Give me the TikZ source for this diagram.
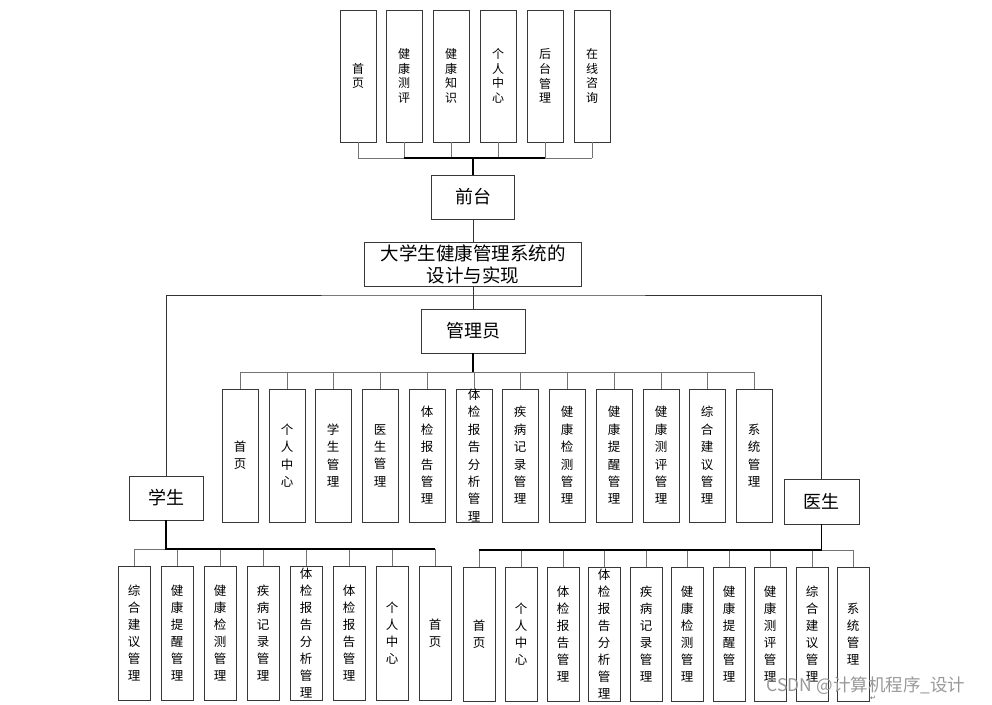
\documentclass[tikz,border=0pt]{standalone}
\usepackage{fontspec}
\setmainfont{Noto Sans CJK SC}
\newfontfamily\symfont{DejaVu Sans}
\begin{document}
\begin{tikzpicture}[x=1pt,y=-1pt,
  box/.style={draw=black!78,line width=0.9pt,fill=white,inner sep=0pt,align=center},
  topbox/.style={box,minimum width=36pt,minimum height=132pt,font=\fontsize{12}{14.6}\selectfont},
  admbox/.style={box,minimum width=36pt,minimum height=133pt,font=\fontsize{12.5}{17.4}\selectfont},
  subbox/.style={box,minimum width=32pt,minimum height=134pt,font=\fontsize{12.5}{17}\selectfont},
  headbox/.style={box,minimum height=44pt,font=\fontsize{18}{22}\selectfont},
  bus/.style={draw=black!55,line width=0.9pt},
  stem/.style={draw=black,line width=1.5pt},
  conn/.style={draw=black!80,line width=0.8pt}]
\useasboundingbox (0,0) rectangle (992,704);

% top level
\node[topbox] (t1) at (358,76) {首\\页};
\node[topbox] (t2) at (404,76) {健\\康\\测\\评};
\node[topbox] (t3) at (451,76) {健\\康\\知\\识};
\node[topbox] (t4) at (498,76) {个\\人\\中\\心};
\node[topbox] (t5) at (545,76) {后\\台\\管\\理};
\node[topbox] (t6) at (592,76) {在\\线\\咨\\询};
\node[headbox,minimum width=83pt] (qt) at (473,197) {前台};
\node[headbox,minimum width=217pt,font=\fontsize{18.5}{22}\selectfont] (sys) at (473,264) {大学生健康管理系统的\\设计与实现};
\node[headbox,minimum width=104pt] (adm) at (473,331) {管理员};
\node[headbox,minimum width=74pt] (stu) at (166,498) {学生};
\node[headbox,minimum width=75pt,minimum height=45pt] (doc) at (821.5,501.5) {医生};

\coordinate (tb) at (473,158);
\foreach \i in {1,...,6} \draw[bus] (t\i.south) -- (t\i.south |- tb);
\draw[bus] (t1.south |- tb) -- (t6.south |- tb);
\draw[stem] (t2.south |- tb) -- (t5.south |- tb);
\draw[stem] (qt.north) -- (qt.north |- tb);
\draw[conn] (qt.south) -- (sys.north);
\draw[conn] (sys.south) -- (adm.north);
\coordinate (fr) at (473,295);
\draw[conn] (stu.north) |- (fr) -| (doc.north);

% admin
\node[admbox] (a1) at (240,455.5) {首\\页};
\node[admbox] (a2) at (287,455.5) {个\\人\\中\\心};
\node[admbox] (a3) at (333,455.5) {学\\生\\管\\理};
\node[admbox] (a4) at (380,455.5) {医\\生\\管\\理};
\node[admbox] (a5) at (427,455.5) {体\\检\\报\\告\\管\\理};
\node[admbox] (a6) at (474,455.5) {体\\检\\报\\告\\分\\析\\管\\理};
\node[admbox] (a7) at (520,455.5) {疾\\病\\记\\录\\管\\理};
\node[admbox] (a8) at (567,455.5) {健\\康\\检\\测\\管\\理};
\node[admbox] (a9) at (614,455.5) {健\\康\\提\\醒\\管\\理};
\node[admbox] (a10) at (661,455.5) {健\\康\\测\\评\\管\\理};
\node[admbox] (a11) at (707,455.5) {综\\合\\建\\议\\管\\理};
\node[admbox] (a12) at (754,455.5) {系\\统\\管\\理};
\coordinate (ab) at (473,372);
\foreach \i in {1,...,12} \draw[bus] (a\i.north) -- (a\i.north |- ab);
\draw[bus] (a1.north |- ab) -- (a12.north |- ab);
\draw[stem] (adm.south) -- (adm.south |- ab);

% student
\node[subbox] (s1) at (134,633) {综\\合\\建\\议\\管\\理};
\node[subbox] (s2) at (177,633) {健\\康\\提\\醒\\管\\理};
\node[subbox] (s3) at (220,633) {健\\康\\检\\测\\管\\理};
\node[subbox] (s4) at (263,633) {疾\\病\\记\\录\\管\\理};
\node[subbox] (s5) at (306,633) {体\\检\\报\\告\\分\\析\\管\\理};
\node[subbox] (s6) at (349,633) {体\\检\\报\\告\\管\\理};
\node[subbox] (s7) at (392,633) {个\\人\\中\\心};
\node[subbox] (s8) at (435,633) {首\\页};
\coordinate (sb) at (166,549);
\foreach \i in {1,...,8} \draw[bus] (s\i.north) -- (s\i.north |- sb);
\draw[bus] (s1.north |- sb) -- (s8.north |- sb);
\draw[stem] (stu.south) -- (sb) -- (s8.north |- sb);

% doctor
\node[subbox] (d1) at (479,634) {首\\页};
\node[subbox] (d2) at (521,634) {个\\人\\中\\心};
\node[subbox] (d3) at (563,634) {体\\检\\报\\告\\管\\理};
\node[subbox] (d4) at (604,634) {体\\检\\报\\告\\分\\析\\管\\理};
\node[subbox] (d5) at (646,634) {疾\\病\\记\\录\\管\\理};
\node[subbox] (d6) at (687,634) {健\\康\\检\\测\\管\\理};
\node[subbox] (d7) at (729,634) {健\\康\\提\\醒\\管\\理};
\node[subbox] (d8) at (770,634) {健\\康\\测\\评\\管\\理};
\node[subbox] (d9) at (812,634) {综\\合\\建\\议\\管\\理};
\node[subbox] (d10) at (853,634) {系\\统\\管\\理};
\coordinate (db) at (821.5,550);
\foreach \i in {1,...,10} \draw[bus] (d\i.north) -- (d\i.north |- db);
\draw[bus] (d1.north |- db) -- (d10.north |- db);
\draw[stem] (doc.south) -- (db) -- (d1.north |- db);

% watermark
\node[text=black!40,font=\fontsize{17.5}{20}\selectfont,inner sep=0pt] (wm) at (866,686) {CSDN @计算机程序\_设计};
\node[text=black!60,font=\symfont\fontsize{7}{8}\selectfont,inner sep=0pt] (ret) at (873,698) {↵};
\end{tikzpicture}
\end{document}
